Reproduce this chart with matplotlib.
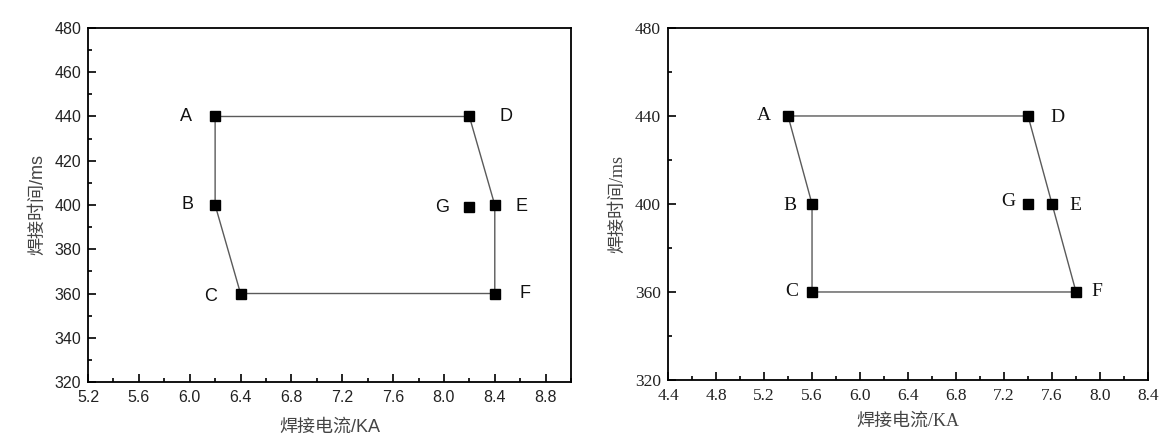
import matplotlib
matplotlib.use("Agg")
import matplotlib.pyplot as plt
from matplotlib.ticker import MultipleLocator, FormatStrFormatter

# 左图数据
names = ["A", "B", "C", "F", "E", "D"]
left_x = [6.2, 6.2, 6.4, 8.4, 8.4, 8.2]
left_y = [440, 400, 360, 360, 400, 440]
left_g = (8.2, 399)
# 右图数据
right_x = [5.4, 5.6, 5.6, 7.8, 7.6, 7.4]
right_y = [440, 400, 360, 360, 400, 440]
right_g = (7.4, 400)

xlabel = "焊接电流/KA"
ylabel = "焊接时间/ms"

sans = ["Liberation Sans", "Noto Sans CJK SC"]
serif = ["Liberation Serif", "Noto Sans CJK SC"]

fig = plt.figure(figsize=(11.64, 4.42), dpi=100)
ax1 = fig.add_axes([0.0756, 0.1357, 0.415, 0.801])
ax2 = fig.add_axes([0.5739, 0.1403, 0.4124, 0.7964])


def draw(ax, xs, ys, g, offs, fam, xlim, xmaj, ymaj, tsize, lsize, xpad, lpad):
    px = xs + [xs[0]]
    py = ys + [ys[0]]
    ax.plot(px, py, color="#5a5a5a", lw=1.0, zorder=2)
    ax.plot(xs, ys, ls="none", marker="s", ms=7, color="black", zorder=3)
    ax.plot([g[0]], [g[1]], ls="none", marker="s", ms=7, color="black", zorder=3)
    for n, x, y in zip(names + ["G"], xs + [g[0]], ys + [g[1]]):
        dx, dy = offs[n]
        ax.annotate(n, (x, y), xytext=(dx, dy), textcoords="offset pixels",
                    ha="center", va="center", fontsize=lsize, family=fam, color="#111111")
    ax.set_xlim(*xlim)
    ax.set_ylim(320, 480)
    ax.xaxis.set_major_locator(MultipleLocator(xmaj))
    ax.xaxis.set_minor_locator(MultipleLocator(xmaj / 2))
    ax.yaxis.set_major_locator(MultipleLocator(ymaj))
    ax.yaxis.set_minor_locator(MultipleLocator(ymaj / 2))
    ax.xaxis.set_major_formatter(FormatStrFormatter("%.1f"))
    ax.tick_params(which="both", direction="in", top=False, right=False, width=1.2,
                   labelsize=tsize, labelcolor="#222222")
    ax.tick_params(axis="x", which="major", length=6, pad=xpad)
    ax.tick_params(axis="y", which="major", length=6, pad=5)
    ax.tick_params(which="minor", length=3)
    for lab in ax.get_xticklabels() + ax.get_yticklabels():
        lab.set_family(fam)
    for s in ax.spines.values():
        s.set_linewidth(1.3)
    ax.set_xlabel(xlabel, fontsize=13, family=fam, color="#444444", labelpad=lpad)
    ax.set_ylabel(ylabel, fontsize=13, family=fam, color="#444444", labelpad=6)


left_offs = {"A": (-29, 0), "B": (-28, 0), "C": (-30, -3), "D": (37, 0),
             "E": (27, -2), "F": (30, 0), "G": (-27, 0)}
right_offs = {"A": (-24, 0), "B": (-22, -2), "C": (-20, 0), "D": (29, -2),
              "E": (23, -2), "F": (21, 0), "G": (-20, 2)}

draw(ax1, left_x, left_y, left_g, left_offs, sans, (5.2, 9.0), 0.4, 20, 11.5, 13, 6, 10)
draw(ax2, right_x, right_y, right_g, right_offs, serif, (4.4, 8.4), 0.4, 40, 12.5, 14, 6, 6)

fig.savefig("out.png", dpi=100)
